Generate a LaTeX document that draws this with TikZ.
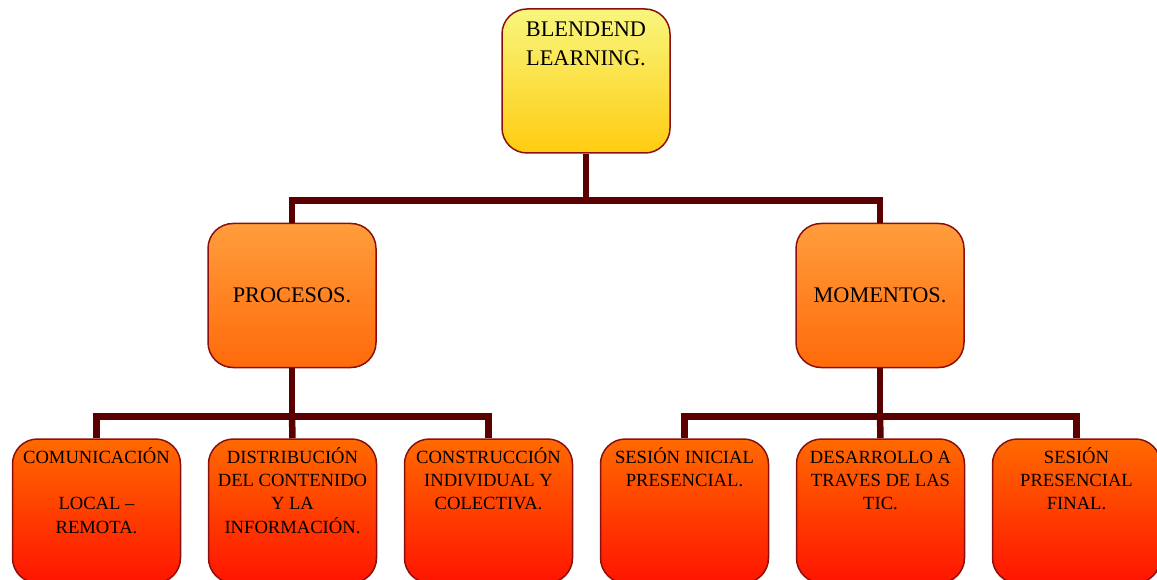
\documentclass[tikz,border=0pt]{standalone}
\usepackage{fontspec}
\setmainfont{Liberation Serif}
\usetikzlibrary{calc}
\definecolor{bordercol}{HTML}{8A1010}
\definecolor{linkcol}{HTML}{5A0000}
\definecolor{ytop}{HTML}{F8F67E}
\definecolor{ybot}{HTML}{FFCC10}
\definecolor{otop}{HTML}{FF9D3C}
\definecolor{obot}{HTML}{FF6A0A}
\definecolor{rtop}{HTML}{FF6A00}
\definecolor{rbot}{HTML}{FF1400}
\newcommand{\toplines}[2]{\parbox[t]{#1}{\centering #2}}
\tikzset{
  box/.style={draw=bordercol, line width=1.5pt, rounded corners=25pt,
    minimum width=168pt, minimum height=144pt, inner sep=0pt},
  topbox/.style={box, top color=ytop, bottom color=ybot},
  midbox/.style={box, top color=otop, bottom color=obot,
    font=\fontsize{22.3}{29}\selectfont},
  lowbox/.style={box, top color=rtop, bottom color=rbot},
  bigtxt/.style={anchor=base, inner sep=0pt,
    font=\fontsize{22.3}{29}\selectfont},
  smalltxt/.style={anchor=base, inner sep=0pt,
    font=\fontsize{18.6}{23.3}\selectfont},
  link/.style={draw=linkcol, line width=6.5pt}
}
\begin{document}
\begin{tikzpicture}[x=1pt,y=-1pt]
\useasboundingbox (0,0) rectangle (1157,580);
% boxes
\node[topbox] (root) at (586,81) {};
\node[midbox] (proc) at (292,295.5) {PROCESOS.};
\node[midbox] (mom) at (880,295.5) {MOMENTOS.};
\node[lowbox] (c1) at (96.5,511) {};
\node[lowbox] (c2) at (292.5,511) {};
\node[lowbox] (c3) at (488.5,511) {};
\node[lowbox] (c4) at (684.5,511) {};
\node[lowbox] (c5) at (880.5,511) {};
\node[lowbox] (c6) at (1076.5,511) {};
% connectors
\coordinate (j0) at ($(root.south)+(0,47)$);
\coordinate (j1) at ($(proc.south)+(0,48)$);
\coordinate (j2) at ($(mom.south)+(0,48)$);
\draw[link] (root.south) -- (j0);
\draw[link] (j0) -| (proc.north);
\draw[link] (j0) -| (mom.north);
\draw[link] (proc.south) -- (j1);
\draw[link] (j1) -| (c1.north);
\draw[link] (j1) -- (c2.north);
\draw[link] (j1) -| (c3.north);
\draw[link] (mom.south) -- (j2);
\draw[link] (j2) -| (c4.north);
\draw[link] (j2) -- (c5.north);
\draw[link] (j2) -| (c6.north);
% texts
\node[bigtxt] (t0) at ($(root.north)+(0,28.5)$) {\toplines{160pt}{BLENDEND\\LEARNING.}};
\node[smalltxt] (t1) at ($(c1.north)+(0,25)$) {\toplines{166pt}{COMUNICACIÓN\\[23.3pt]LOCAL –\\REMOTA.}};
\node[smalltxt] (t2) at ($(c2.north)+(0,25)$) {\toplines{166pt}{DISTRIBUCIÓN\\DEL CONTENIDO\\Y LA\\INFORMACIÓN.}};
\node[smalltxt] (t3) at ($(c3.north)+(0,25)$) {\toplines{166pt}{CONSTRUCCIÓN\\INDIVIDUAL Y\\COLECTIVA.}};
\node[smalltxt] (t4) at ($(c4.north)+(0,25)$) {\toplines{166pt}{SESIÓN INICIAL\\PRESENCIAL.}};
\node[smalltxt] (t5) at ($(c5.north)+(0,25)$) {\toplines{166pt}{DESARROLLO A\\TRAVES DE LAS\\TIC.}};
\node[smalltxt] (t6) at ($(c6.north)+(0,25)$) {\toplines{166pt}{SESIÓN\\PRESENCIAL\\FINAL.}};
\end{tikzpicture}
\end{document}
